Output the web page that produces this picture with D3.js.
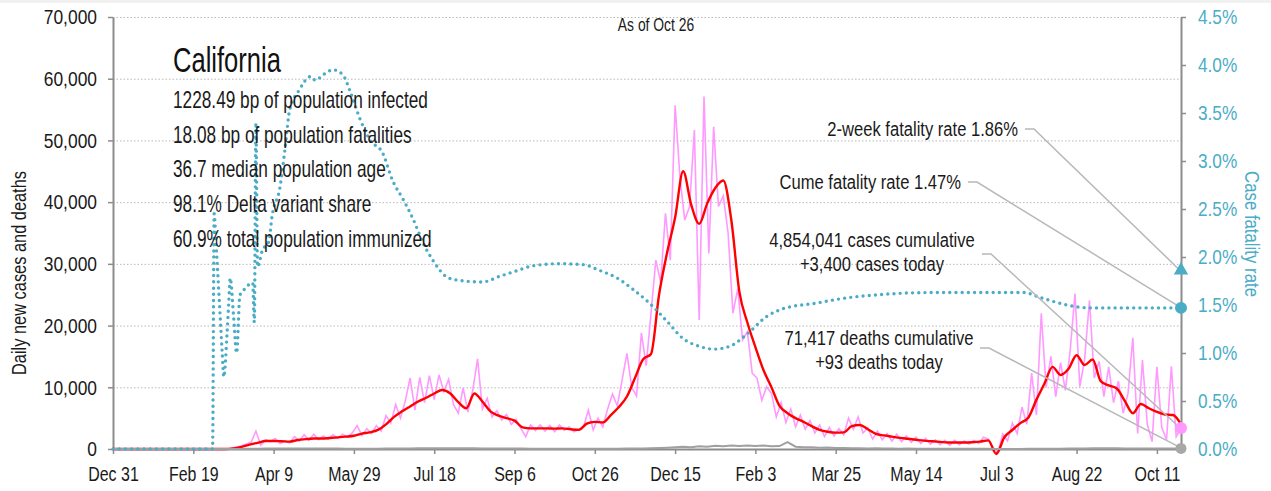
<!DOCTYPE html>
<html>
<head>
<meta charset="utf-8">
<script src="https://cdn.jsdelivr.net/npm/d3@7"></script>
<style>
  body { margin: 0; background: #fff; }
</style>
</head>
<body>
<svg id="chart" width="1271" height="491"></svg>
<script>

var startDate = "2019-12-31";
var endDate = "2021-10-26";

var xTickDates = ["2019-12-31", "2020-02-19", "2020-04-09", "2020-05-29", "2020-07-18", "2020-09-06", "2020-10-26",
  "2020-12-15", "2021-02-03", "2021-03-25", "2021-05-14", "2021-07-03", "2021-08-22", "2021-10-11"];
var caseTicks = [0, 10000, 20000, 30000, 40000, 50000, 60000, 70000];
var rateTicks = [0, 0.5, 1, 1.5, 2, 2.5, 3, 3.5, 4, 4.5];

// raw daily cases, one reading every 3 days starting day 2
var dailyFirstDay = 2, dailyStep = 3;
var dailyCases = [
  0, 0, 0, 0, 0, 0, 0, 0, 0, 0,
  0, 0, 0, 0, 0, 0, 0, 0, 0, 0,
  0, 0, 0, 50, 150, 300, 500, 800, 1100, 2900,
  600, 1500, 1200, 1700, 900, 1300, 1000, 2000, 1300, 2300,
  1400, 2400, 1500, 2100, 1600, 2300, 1700, 2400, 1900, 2600,
  3800, 2200, 3300, 2500, 3800, 2900, 5400, 4200, 7200, 5000,
  7800, 11500, 6300, 11600, 7500, 11900, 8000, 12000, 9300, 11300,
  7200, 5800, 9900, 6000, 9500, 14600, 6500, 8200, 5200, 6200,
  4700, 5600, 4000, 4800, 3300, 2000, 3900, 3000, 3900, 2900,
  3800, 2800, 3900, 3000, 3600, 2800, 3200, 3600, 6300, 3100,
  5000, 3600, 6500, 8900, 7000, 11200, 15500, 10000, 8600, 18800,
  13500, 22000, 30600, 27000, 38200, 30600, 55700, 44100, 37100, 39300,
  51700, 20900, 57100, 31700, 52200, 39300, 41000, 35000, 22000, 26000,
  17700, 19000, 12300, 11500, 7900, 10100, 9000, 5200, 7500, 4300,
  6500, 3600, 5500, 3200, 4600, 2600, 3900, 2000, 3500, 2100,
  3300, 2300, 5000, 3200, 5200, 2600, 3400, 1600, 2900, 1500,
  2500, 1300, 2400, 1200, 2100, 1100, 1900, 900, 1700, 800,
  1500, 700, 1400, 600, 1400, 700, 1300, 800, 1400, 900,
  1900, 1600, 200, -500, 2400, 1300, 4200, 2500, 6800, 4000,
  12300, 5500, 22000, 10000, 15000, 8500, 14000, 9500, 16000, 25200,
  10100, 14500, 24100, 11500, 14200, 8500, 13300, 7500, 11000, 5800,
  9000, 18000, 2500, 14400, 4000, 1200, 13300, 3500, 1500, 13400,
  2000, 3400
];

// 7-day averages, one reading every 5 days starting day 0
var avgStep = 5;
var avgCases = [
  0, 0, 0, 0, 0, 0, 0, 0, 0, 0, 0, 0, 0, 0,
  0, 100, 350, 700, 1000, 1300, 1300, 1250, 1200, 1450,
  1600, 1700, 1700, 1780, 1880, 2000, 2150, 2500, 2700, 3100,
  4000, 5200, 6100, 6900, 7700, 8300, 9000, 9550, 9000, 7600,
  6600, 9000, 7700, 6100, 5400, 5000, 4600, 3500, 3350, 3350,
  3350, 3300, 3350, 3200, 3100, 4100, 4400, 4300, 5500, 6800,
  8500, 11500, 14500, 15400, 25000, 31800, 37500, 45000, 39600, 36500,
  39800, 42300, 43500, 37100, 25500, 20500, 16500, 12800, 10000, 7000,
  5800, 5000, 4400, 3700, 3100, 2800, 2650, 2700, 3700, 3900,
  3200, 2450, 2200, 2000, 1800, 1650, 1500, 1350, 1250, 1150,
  1050, 1050, 1050, 1100, 1200, 1400, -800, 1900, 3080, 4200,
  5100, 8000, 10600, 13300, 12000, 13000, 15200, 13600, 14500, 11000,
  10300, 9800, 7800, 5800, 7300, 6600, 6000, 5600, 5500, 4000
];
var avgDeaths = [
  0, 0, 0, 0, 0, 0, 0, 0, 0, 0, 0, 0, 0, 0, 0, 0,
  20, 40, 60, 70, 80, 80, 85, 80, 75, 75, 70, 70, 65, 60, 60, 55, 60,
  60, 70, 80, 90, 100, 110, 120, 130, 140, 130, 130, 120, 110, 100, 95, 90, 80, 70, 65, 60,
  55, 50, 50, 45, 45, 45, 45, 45,
  50, 55, 60, 70, 85, 100, 130, 170, 220, 280, 350, 300, 450, 380, 520, 450, 560, 480, 580, 500,
  550, 430, 480, 1100, 380, 280, 300, 200, 250, 150,
  180, 120, 140, 100, 110, 80, 90, 60, 70, 50, 50, 40, 40, 30, 30, 30, 25, 25, 25, 20,
  20, 20, 20, 25, 30, 40, 50, 60, 80, 90, 100, 110, 120, 120, 110, 100, 100, 90, 90, 80,
  80, 70, 93
];

// case fatality rate (%) by day since start
var cfrDays = [0, 62, 63, 64, 65, 66, 67, 68, 69, 71, 72, 73, 75, 77, 79, 81, 83, 85, 87, 88, 89, 90,
  93, 97, 99, 104, 107, 110, 116, 123, 126, 131, 137, 143, 148, 154, 160, 168, 174, 181, 187, 193, 199,
  208, 214, 230, 241, 252, 262, 278, 293, 303, 314, 324, 334, 345, 355, 365, 374, 384, 395, 407, 417,
  438, 455, 479, 511, 542, 567, 577, 594, 608, 665];
var cfrRates = [0, 0, 2.45, 2.2, 1.9, 1.6, 1.3, 1.0, 0.75, 1.2, 1.5, 1.78, 1.4, 1.0, 1.6, 1.65, 1.68, 1.72, 1.73, 1.32, 3.4, 1.9,
  2.07, 2.16, 2.42, 2.73, 3.11, 3.53, 3.74, 3.88, 3.84, 3.9, 3.95, 3.9, 3.71, 3.43, 3.22, 3.08, 2.8, 2.59, 2.39, 2.15, 1.97,
  1.79, 1.76, 1.74, 1.8, 1.86, 1.91, 1.93, 1.92, 1.86, 1.78, 1.66, 1.52, 1.33, 1.15, 1.07, 1.04, 1.07, 1.2, 1.38, 1.46,
  1.52, 1.57, 1.61, 1.63, 1.63, 1.63, 1.58, 1.5, 1.47, 1.47];

var stateName = "California";
var asOfLabel = "As of Oct 26";
var infoLines = ["1228.49 bp of population infected", "18.08 bp of population fatalities", "36.7 median population age",
  "98.1% Delta variant share", "60.9% total population immunized"];

var twoWeekRate = 1.86, cumeRate = 1.47;
var casesCumulative = 4854041, casesToday = 3400;
var deathsCumulative = 71417, deathsToday = 93;

var FONT = '"Liberation Sans", Arimo, Arial, sans-serif';
var TEAL = "#4bacc6";
var INK = "#1a1a1a";

var parse = d3.timeParse("%Y-%m-%d");
var start = parse(startDate);
var end = parse(endDate);
var day = i => d3.timeDay.offset(start, i);

var plotLeft = 113, plotRight = 1181, plotTop = 17, plotBottom = 449;

var x = d3.scaleTime().domain([start, end]).range([plotLeft, plotRight]);
var y = d3.scaleLinear().domain([0, 70000]).range([plotBottom, plotTop]);
var y2 = d3.scaleLinear().domain([0, 4.5]).range([plotBottom, plotTop]);

var svg = d3.select("#chart").attr("font-family", FONT);

// no condensed face installed, so squeeze text horizontally round its anchor
function squeeze(sel, k) {
  sel.each(function() {
    var t = d3.select(this);
    var tx = +t.attr("x") || 0, ty = +t.attr("y") || 0;
    var pre = t.attr("transform") || "";
    t.attr("transform", `${pre} translate(${tx},${ty}) scale(${k},1) translate(${-tx},${-ty})`);
  });
}

svg.append("rect").attr("width", 1271).attr("height", 3).attr("fill", "#f1f1f1");

// grid
svg.append("g")
  .selectAll("line")
  .data(caseTicks.slice(1))
  .join("line")
    .attr("x1", plotLeft).attr("x2", plotRight)
    .attr("y1", d => y(d) + 0.5).attr("y2", d => y(d) + 0.5)
    .attr("stroke", "#b8b8b8")
    .attr("stroke-dasharray", "1.5,2");

function styleAxis(g, size, k, color) {
  g.attr("font-family", FONT).attr("font-size", size);
  g.select(".domain").attr("stroke", "#8c8c8c").attr("stroke-width", 2);
  g.selectAll(".tick line").attr("stroke", "#8c8c8c").attr("stroke-width", 1.5);
  g.selectAll(".tick text").attr("fill", color).call(squeeze, k);
}

svg.append("g")
  .attr("transform", `translate(${plotLeft},0)`)
  .call(d3.axisLeft(y).tickValues(caseTicks).tickFormat(d3.format(",")).tickSize(5).tickPadding(11).tickSizeOuter(0))
  .call(g => styleAxis(g, 21, 0.83, INK));

svg.append("g")
  .attr("transform", `translate(${plotRight},0)`)
  .call(d3.axisRight(y2).tickValues(rateTicks).tickFormat(d => d.toFixed(1) + "%").tickSize(5).tickPadding(12).tickSizeOuter(0))
  .call(g => styleAxis(g, 21, 0.82, TEAL));

svg.append("g")
  .attr("transform", `translate(0,${plotBottom})`)
  .call(d3.axisBottom(x).tickValues(xTickDates.map(parse)).tickFormat(d3.timeFormat("%b %-d")).tickSize(5).tickPadding(12).tickSizeOuter(0))
  .call(g => styleAxis(g, 21, 0.76, INK));

svg.append("text")
  .attr("transform", "translate(26,273) rotate(-90) scale(0.78,1)")
  .attr("text-anchor", "middle")
  .attr("font-size", 21)
  .attr("fill", INK)
  .text("Daily new cases and deaths");

svg.append("text")
  .attr("transform", "translate(1245,234) rotate(90) scale(0.8,1)")
  .attr("text-anchor", "middle")
  .attr("font-size", 21)
  .attr("fill", TEAL)
  .text("Case fatality rate");

// series
var dailyData = dailyCases.map((v, i) => ({date: day(dailyFirstDay + i * dailyStep), value: v}));
var avgData = avgCases.map((v, i) => ({date: day(i * avgStep), value: v}));
var deathData = avgDeaths.map((v, i) => ({date: day(i * avgStep), value: v}));
var cfrData = cfrDays.map((d, i) => ({date: day(d), value: cfrRates[i]}));

var caseLine = d3.line().x(d => x(d.date)).y(d => y(d.value));
var rateLine = d3.line().x(d => x(d.date)).y(d => y2(d.value)).curve(d3.curveMonotoneX);

svg.append("path")
  .datum(dailyData)
  .attr("fill", "none")
  .attr("stroke", "#ff99ff")
  .attr("stroke-width", 1.6)
  .attr("d", caseLine);

svg.append("path")
  .datum(avgData)
  .attr("fill", "none")
  .attr("stroke", "#ff0000")
  .attr("stroke-width", 2.4)
  .attr("stroke-linejoin", "round")
  .attr("d", caseLine.curve(d3.curveMonotoneX));

svg.append("path")
  .datum(deathData)
  .attr("fill", "none")
  .attr("stroke", "#a0a0a0")
  .attr("stroke-width", 2)
  .attr("d", d3.line().x(d => x(d.date)).y(d => y(d.value)));

svg.append("path")
  .datum(cfrData)
  .attr("fill", "none")
  .attr("stroke", TEAL)
  .attr("stroke-width", 3.4)
  .attr("stroke-linecap", "round")
  .attr("stroke-dasharray", "0,6.2")
  .attr("d", rateLine);

// title block
svg.append("text")
  .attr("x", 173).attr("y", 72)
  .attr("font-size", 35)
  .attr("fill", "#111")
  .text(stateName)
  .call(squeeze, 0.73);

svg.append("g")
  .selectAll("text")
  .data(infoLines)
  .join("text")
    .attr("x", 173)
    .attr("y", (d, i) => 108 + i * 34.7)
    .attr("font-size", 23)
    .attr("fill", INK)
    .text(d => d)
    .call(squeeze, 0.75);

svg.append("text")
  .attr("x", 656).attr("y", 31)
  .attr("text-anchor", "middle")
  .attr("font-size", 19)
  .attr("fill", INK)
  .text(asOfLabel)
  .call(squeeze, 0.73);

// end markers and callouts
var fmt = d3.format(",");
var xe = x(end);

var callouts = [
  {lines: [`2-week fatality rate ${twoWeekRate}%`], anchor: "end", tx: 1018, ty: 136, lx: 1025, ly: 129, ex: y2(twoWeekRate)},
  {lines: [`Cume fatality rate ${cumeRate}%`], anchor: "end", tx: 961, ty: 189, lx: 968, ly: 182, ex: y2(cumeRate)},
  {lines: [`${fmt(casesCumulative)} cases cumulative`, `+${fmt(casesToday)} cases today`], anchor: "middle", tx: 872, ty: 247, lx: 982, ly: 254, ex: y(casesToday)},
  {lines: [`${fmt(deathsCumulative)} deaths cumulative`, `+${fmt(deathsToday)} deaths today`], anchor: "middle", tx: 879, ty: 345, lx: 980, ly: 348, ex: y(deathsToday)}
];

svg.append("g")
  .selectAll("polyline")
  .data(callouts)
  .join("polyline")
    .attr("fill", "none")
    .attr("stroke", "#b8b8b8")
    .attr("stroke-width", 1.5)
    .attr("points", d => `${d.lx},${d.ly} ${d.lx + 9},${d.ly} ${xe - 3},${d.ex - 2}`);

var ct = svg.append("g")
  .selectAll("text")
  .data(callouts)
  .join("text")
    .attr("x", d => d.tx)
    .attr("y", d => d.ty)
    .attr("text-anchor", d => d.anchor)
    .attr("font-size", 21)
    .attr("fill", INK);

ct.selectAll("tspan")
  .data(d => d.lines.map((t, i) => ({t: t, i: i, d: d})))
  .join("tspan")
    .attr("x", d => d.d.tx)
    .attr("y", d => d.d.ty + d.i * 24)
    .text(d => d.t);

ct.call(squeeze, 0.79);

svg.append("path")
  .attr("d", d3.symbol(d3.symbolTriangle, 90)())
  .attr("transform", `translate(${xe},${y2(twoWeekRate)})`)
  .attr("fill", TEAL);

svg.append("circle").attr("cx", xe).attr("cy", y2(cumeRate)).attr("r", 6).attr("fill", TEAL);
svg.append("circle").attr("cx", xe).attr("cy", y(casesToday)).attr("r", 6).attr("fill", "#ff99ff");
svg.append("circle").attr("cx", xe).attr("cy", y(deathsToday)).attr("r", 5.5).attr("fill", "#a8a8a8");

</script>
</body>
</html>
